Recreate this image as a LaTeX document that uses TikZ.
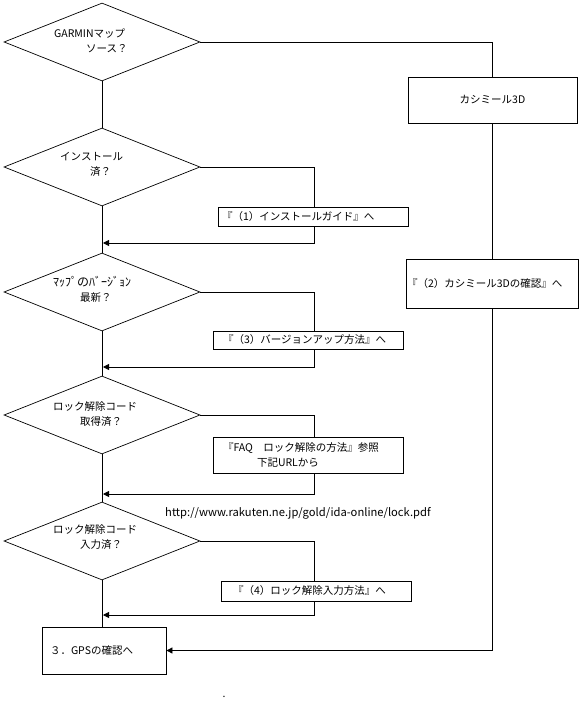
\documentclass[tikz,border=0pt]{standalone}
\usepackage{fontspec}
\setmainfont{Noto Sans CJK JP}
\usetikzlibrary{shapes.geometric,arrows.meta}
\begin{document}
\begin{tikzpicture}[x=1pt,y=-1pt,
  every node/.style={font=\fontsize{10.5pt}{15pt}\selectfont, inner sep=0pt},
  dia/.style={draw, diamond, minimum width=196pt, minimum height=78pt, line width=0.7pt},
  box/.style={draw, rectangle, line width=0.8pt, align=left},
  ln/.style={line width=0.8pt},
  arr/.style={ln, -{Triangle[length=6pt,width=6pt]}}]
\fill[white] (0,0) rectangle (579,719);
\useasboundingbox (0,0) rectangle (579,719);

% decisions
\node[dia] (d1) at (102,42) {};
\node[dia] (d2) at (102,167) {};
\node[dia] (d3) at (102,292) {};
\node[dia] (d4) at (102,415) {};
\node[dia] (d5) at (102,541) {};

\node[anchor=west, align=left] (d1t) at (54,40.5) {GARMINマップ\\\hspace*{32pt}ソース？};
\node[anchor=west, align=left] (d2t) at (60,164.5) {インストール\\\hspace*{30pt}済？};
\node[anchor=west, align=left] (d3t) at (53,289.5) {{\fontsize{12pt}{15pt}\selectfont ﾏｯﾌﾟのﾊﾞｰｼﾞｮﾝ}\\\hspace*{27pt}最新？};
\node[anchor=west, align=left] (d4t) at (53,414.5) {ロック解除コード\\\hspace*{27pt}取得済？};
\node[anchor=west, align=left] (d5t) at (53,537.5) {ロック解除コード\\\hspace*{27pt}入力済？};

% boxes
\node[box, text width=182pt, inner xsep=4pt, minimum height=19pt] (b1) at (313,216.5) {『（1）インストールガイド』へ};
\node[box, text width=170pt, inner xsep=10pt, minimum height=18pt] (b3) at (308,340) {『（3）バージョンアップ方法』へ};
\node[box, text width=170pt, inner xsep=10pt, minimum height=36pt] (bf) at (308,455) {『FAQ　ロック解除の方法』参照\\\hspace*{34pt}下記URLから};
\node[box, text width=166pt, inner xsep=12pt, minimum height=20pt] (b4) at (316,591) {『（4）ロック解除入力方法』へ};
\node[box, minimum width=169pt, minimum height=46pt, align=center] (k1) at (492.5,100) {カシミール3D};
\node[box, text width=170pt, inner xsep=1pt, minimum height=49pt] (k2) at (492,283.5) {『（2）カシミール3Dの確認』へ};
\node[box, text width=108pt, inner xsep=8pt, minimum height=47pt] (gps) at (104,650.5) {３．GPSの確認へ};

\node[anchor=west, font=\fontsize{11.2pt}{15pt}\selectfont] (url) at (165,513) {http://www.rakuten.ne.jp/gold/ida-online/lock.pdf};
\node (dot) at (224,697) {.};

% merge points on the main line
\coordinate (m1) at (103,243);
\coordinate (m2) at (103,367);
\coordinate (m3) at (103,494);
\coordinate (m4) at (103,615);

% main line
\draw[ln] (d1.south) -- (d2.north);
\draw[ln] (d2.south) -- (d3.north);
\draw[ln] (d3.south) -- (d4.north);
\draw[ln] (d4.south) -- (d5.north);
\draw[ln] (d5.south) -- (d5.south |- gps.north);

% right route
\draw[ln] (d1.east) -| (k1.north);
\draw[ln] (k1.south) -- (k1.south -| k2.north) -- (k2.north);
\draw[arr] (k2.south) |- (gps.east);

% side branches
\draw[ln] (d2.east) -| ([xshift=1pt]b1.north);
\draw[arr] ([xshift=1pt]b1.south) |- (m1);
\draw[ln] (d3.east) -| ([xshift=6pt]b3.north);
\draw[arr] ([xshift=6pt]b3.south) |- (m2);
\draw[ln] (d4.east) -| ([xshift=6pt]bf.north);
\draw[arr] ([xshift=6pt]bf.south) |- (m3);
\draw[ln] (d5.east) -| ([xshift=-2pt]b4.north);
\draw[arr] ([xshift=-2pt]b4.south) |- (m4);
\end{tikzpicture}
\end{document}
